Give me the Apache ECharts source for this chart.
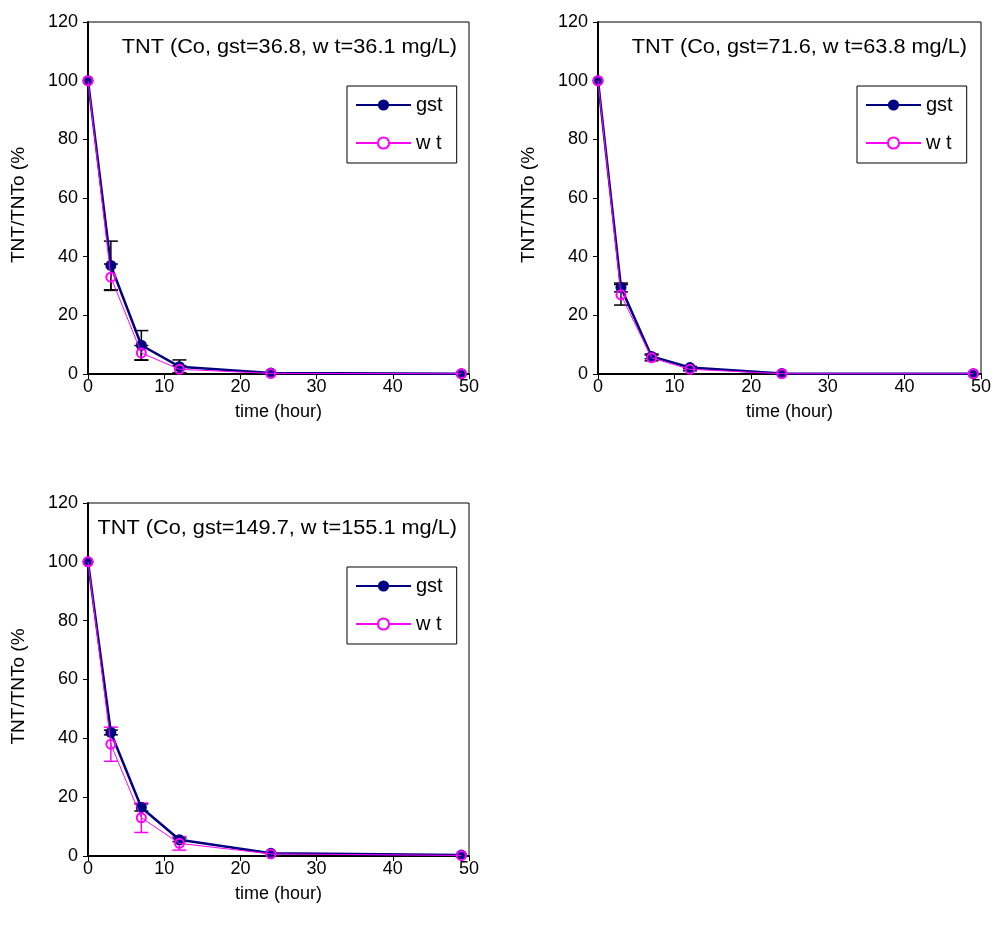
<!DOCTYPE html>
<html>
<head>
<meta charset="utf-8">
<script src="https://cdn.jsdelivr.net/npm/echarts@6/dist/echarts.min.js"></script>
<style>html,body{margin:0;padding:0;background:#fff}#c{width:997px;height:936px}</style>
</head>
<body>
<div id="c"></div>
<script>
// ---- data ----
const time = [0, 3, 7, 12, 24, 49];
const xTicks = [0, 10, 20, 30, 40, 50];
const yTicks = [0, 20, 40, 60, 80, 100, 120];

const titles = [
  'TNT (Co, gst=36.8, w t=36.1 mg/L)',
  'TNT (Co, gst=71.6, w t=63.8 mg/L)',
  'TNT (Co, gst=149.7, w t=155.1 mg/L)'
];
const seriesNames = ['gst', 'w t'];

const p1Gst = [100, 37, 9.8, 2.5, 0.3, 0.1];
const p1GstErr = [0, 8.3, 5, 2.3, 0, 0];
const p1Wt = [100, 33, 7.2, 1.6, 0.2, 0.1];
const p1WtErr = [0, 4.5, 2.5, 1.2, 0, 0];

const p2Gst = [100, 29.5, 6, 2.2, 0.2, 0.1];
const p2GstErr = [0, 1.5, 0.8, 0.4, 0, 0];
const p2Wt = [100, 27, 5.5, 1.6, 0.1, 0.1];
const p2WtErr = [0, 3.5, 1, 0.5, 0, 0];

const p3Gst = [100, 42, 16.5, 5.5, 0.9, 0.3];
const p3GstErr = [0, 0.8, 1.2, 0.6, 0, 0];
const p3Wt = [100, 38, 13, 4.3, 0.7, 0.2];
const p3WtErr = [0, 5.8, 5, 2.3, 0, 0];

const panels = [
  {gst: p1Gst, gstErr: p1GstErr, wt: p1Wt, wtErr: p1WtErr, wtErrColor: '#000000'},
  {gst: p2Gst, gstErr: p2GstErr, wt: p2Wt, wtErr: p2WtErr, wtErrColor: '#000000'},
  {gst: p3Gst, gstErr: p3GstErr, wt: p3Wt, wtErr: p3WtErr, wtErrColor: '#FF00FF'}
];

// ---- layout ----
const grids = [
  {left: 88, top: 22, width: 381, height: 352},
  {left: 598, top: 22, width: 383, height: 352},
  {left: 88, top: 503, width: 381, height: 353}
];
const FONT = 'Liberation Sans, Arial, sans-serif';
const GST_COLOR = '#000080';
const WT_COLOR = '#FF00FF';

function errRender(color) {
  return function (params, api) {
    const x = api.value(0), y = api.value(1), e = api.value(2);
    if (!e) return null;
    const top = api.coord([x, y + e]);
    const bot = api.coord([x, Math.max(0, y - e)]);
    const hw = 7;
    const st = {stroke: color, lineWidth: 1.5};
    return {
      type: 'group',
      children: [
        {type: 'line', shape: {x1: top[0], y1: top[1], x2: bot[0], y2: bot[1]}, style: st},
        {type: 'line', shape: {x1: top[0] - hw, y1: top[1], x2: top[0] + hw, y2: top[1]}, style: st},
        {type: 'line', shape: {x1: bot[0] - hw, y1: bot[1], x2: bot[0] + hw, y2: bot[1]}, style: st}
      ]
    };
  };
}

const option = {
  animation: false,
  backgroundColor: '#fff',
  grid: grids.map(g => Object.assign({show: true, borderColor: '#000', borderWidth: 1, backgroundColor: 'transparent'}, g)),
  xAxis: grids.map((g, i) => ({
    type: 'value', gridIndex: i, min: xTicks[0], max: xTicks[xTicks.length - 1], interval: 10,
    name: 'time (hour)', nameLocation: 'middle', nameGap: 29,
    nameTextStyle: {fontFamily: FONT, fontSize: 18, color: '#000'},
    axisLine: {show: true, onZero: false, lineStyle: {color: '#000', width: 2}},
    axisTick: {show: true, length: 5, lineStyle: {color: '#000', width: 1}},
    axisLabel: {fontFamily: FONT, fontSize: 18, color: '#000', margin: 4},
    splitLine: {show: false}
  })),
  yAxis: grids.map((g, i) => ({
    type: 'value', gridIndex: i, min: yTicks[0], max: yTicks[yTicks.length - 1], interval: 20,
    name: 'TNT/TNTo (%', nameLocation: 'middle', nameGap: 60, nameRotate: 90,
    nameTextStyle: {fontFamily: FONT, fontSize: 19, color: '#000', padding: [0, 14, 0, 0]},
    axisLine: {show: true, onZero: false, lineStyle: {color: '#000', width: 2}},
    axisTick: {show: true, length: 5, lineStyle: {color: '#000', width: 1}},
    axisLabel: {fontFamily: FONT, fontSize: 18, color: '#000', margin: 10},
    splitLine: {show: false}
  })),
  legend: grids.map((g, i) => ({
    orient: 'vertical', left: g.left + 259, top: g.top + 64,
    borderColor: '#000', borderWidth: 1, padding: [9, 14, 10, 8],
    itemWidth: 55, itemHeight: 14, itemGap: 18,
    textStyle: {fontFamily: FONT, fontSize: 20, color: '#000'},
    data: [
      {name: seriesNames[0]},
      {name: seriesNames[1], itemStyle: {color: '#fff', borderColor: WT_COLOR, borderWidth: 2}}
    ]
  })),
  graphic: grids.map((g, i) => ({
    type: 'text', x: g.left + 369, y: g.top + 25, scaleX: 1.085,
    style: {text: titles[i], font: '20px ' + FONT, fill: '#000', textAlign: 'right', textVerticalAlign: 'middle'}
  })),
  series: []
};

panels.forEach((p, i) => {
  option.series.push({
    type: 'custom', name: 'gstErr' + i, xAxisIndex: i, yAxisIndex: i, z: 1,
    renderItem: errRender('#000000'),
    data: time.map((t, k) => [t, p.gst[k], p.gstErr[k]]),
    encode: {x: 0, y: 1}
  });
  option.series.push({
    type: 'custom', name: 'wtErr' + i, xAxisIndex: i, yAxisIndex: i, z: 1,
    renderItem: errRender(p.wtErrColor),
    data: time.map((t, k) => [t, p.wt[k], p.wtErr[k]]),
    encode: {x: 0, y: 1}
  });
  option.series.push({
    type: 'line', name: seriesNames[0], xAxisIndex: i, yAxisIndex: i, z: 3,
    data: time.map((t, k) => [t, p.gst[k]]),
    symbol: 'circle', symbolSize: 11,
    lineStyle: {color: GST_COLOR, width: 2.5},
    itemStyle: {color: GST_COLOR}
  });
  option.series.push({
    type: 'line', name: seriesNames[1], xAxisIndex: i, yAxisIndex: i, z: 4,
    data: time.map((t, k) => [t, p.wt[k]]),
    symbol: 'circle', symbolSize: 9,
    lineStyle: {color: WT_COLOR, width: 1},
    itemStyle: {color: 'rgba(0,0,0,0)', borderColor: WT_COLOR, borderWidth: 2}
  });
});

const chart = echarts.init(document.getElementById('c'), null, {renderer: 'canvas'});
chart.setOption(option);
</script>
</body>
</html>
